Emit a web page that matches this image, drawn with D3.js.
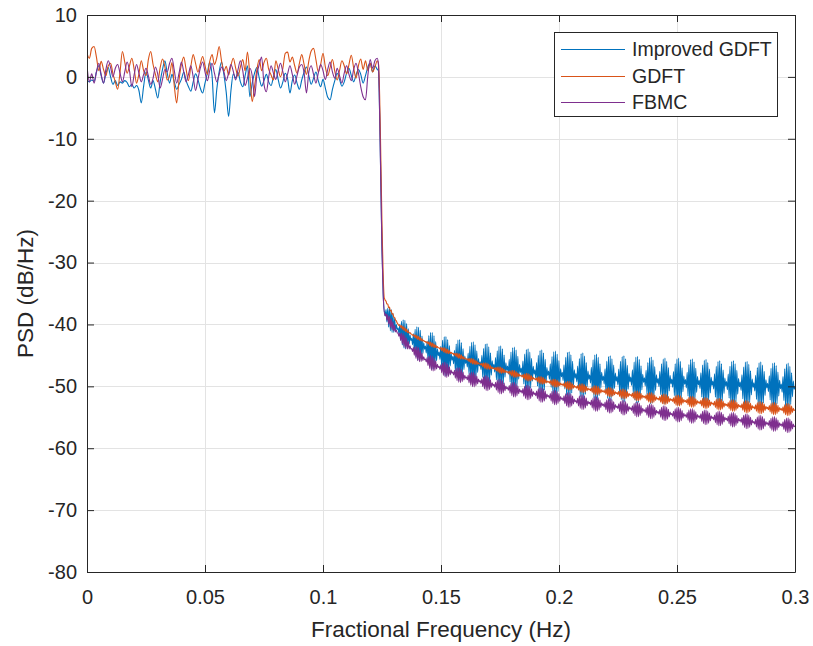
<!DOCTYPE html>
<html>
<head>
<meta charset="utf-8">
<script src="https://cdn.jsdelivr.net/npm/d3@7"></script>
<style>
  body { margin: 0; background: #ffffff; }
  svg text { font-family: "Liberation Sans", Arial, Helvetica, sans-serif; fill: #262626; }
</style>
</head>
<body>
<svg id="psd" width="813" height="646"></svg>
<script>
// PSD comparison plot

// layout
const svgWidth = 813;
const svgHeight = 646;
const plotLeft = 87, plotRight = 795, plotTop = 15, plotBottom = 572;
const tickLen = 7;

var colours = { blue: '#0072BD', orange: '#D95319', purple: '#7E2F8E', axis: '#262626', grid: '#e3e3e3' };

// data
const seriesNames = ['Improved GDFT', 'GDFT', 'FBMC'];
const xTicks = [0, 0.05, 0.1, 0.15, 0.2, 0.25, 0.3];
const yTicks = [10, 0, -10, -20, -30, -40, -50, -60, -70, -80];

// passband, one value every 0.001 Hz from 0 to 0.123
const passStep = 0.001;
const passImproved = [-0.6, -0.8, -0.5, -0.7, 0.8, 1.8, 0.2, -1.0, 0.5, 1.5,
  0.0, -1.2, -0.6, -1.4, -0.8, -1.0, -0.6, -0.9, -1.6, -1.2,
  -1.8, -1.4, -2.2, -4.2, -1.5, 0.8, -0.5, -1.8, -0.6, -2.0,
  -3.4, -0.8, 1.2, 2.6, 0.6, -1.0, 0.4, -0.8, -2.0, -1.2,
  -0.4, 0.8, -0.6, -1.6, -2.3, -0.8, 0.5, -0.4, -1.8, -2.6,
  -1.0, 0.6, 2.4, 0.2, -5.8, -2.0, 0.8, 2.4, 0.4, -2.5,
  -6.4, -2.2, 0.5, -0.2, 0.7, -0.8, -1.6, 0.2, 1.8, -3.2,
  -1.0, 0.6, 1.5, -0.2, -1.5, -0.6, 0.4, -0.8, -1.4, 0.0,
  1.2, -0.4, -1.8, -0.8, 0.6, -0.3, -2.6, -0.6, 0.3, -1.0,
  -2.0, -0.5, 0.8, 1.6, 0.2, -1.2, -0.2, 0.8, -0.6, -1.6,
  -0.4, -1.8, -3.3, -3.7, -2.0, -0.6, 0.6, -0.4, -1.5, -0.8,
  0.6, 1.4, 0.2, -0.8, 0.3, 1.2, 0.4, -1.0, 0.2, 1.6,
  2.2, 0.8, 1.8, 1.2];
const passGdft = [3.8, 3.0, 4.6, 4.9, 3.2, 1.0, 2.5, 1.2, 0.2, 1.8,
  2.2, 0.5, -0.8, -2.0, 0.8, 4.1, 2.4, 0.6, 1.8, 3.0,
  1.2, -1.0, 0.5, 2.6, 1.0, 0.2, 2.8, 4.1, 2.0, 0.4,
  -0.8, 1.5, 2.9, 1.6, -0.5, 0.2, 2.3, -1.5, -4.2, -0.5,
  2.0, 3.2, 1.2, -0.6, 1.7, 3.6, 2.2, 0.8, 2.1, 3.3,
  1.8, 0.4, 2.5, 3.6, 2.0, 3.1, 4.9, 2.6, 0.9, 1.7,
  0.3, 1.9, 3.0, 1.4, 0.1, 1.6, 2.8, 1.0, 4.0, 0.2,
  -4.0, -1.5, 1.2, 2.8, 1.0, 2.3, 3.0, 1.2, 0.3, -0.5,
  2.6, 1.3, 0.0, 1.4, 3.8, 4.0, 2.4, 3.2, 1.8, 0.6,
  2.2, 3.6, 2.0, 0.4, 2.6, 4.2, 4.6, 2.8, 0.8, 2.0,
  3.8, 1.6, 0.2, 1.5, 2.8, 0.9, -0.5, 1.0, 2.6, 1.8,
  0.5, 2.0, 3.5, 1.4, -0.2, 1.8, 2.9, 1.2, 2.6, 1.0,
  2.2, 0.8, 1.6, 2.6];
const passFbmc = [1.8, -0.8, 0.5, -1.0, 0.8, 2.2, 0.4, -1.0, 1.2, 2.6,
  1.5, 0.0, 1.4, 2.0, 0.6, -0.8, 0.8, 2.4, 1.0, -1.6,
  0.4, 2.0, 0.6, -0.8, 0.4, 1.4, 0.2, -1.2, -0.2, 1.6,
  0.4, -1.8, -0.4, 1.2, 0.8, 2.2, 3.0, 1.0, -1.0, 0.6,
  2.4, 0.8, -0.8, 0.4, 1.8, 0.0, -2.2, -0.4, 1.4, 2.4,
  0.8, -0.6, 1.0, 2.2, 0.6, -0.8, 0.4, 1.6, 0.8, -0.6,
  0.6, 2.0, 0.9, -0.5, 1.2, 2.6, 1.0, -1.4, -0.2, 1.4,
  0.2, -3.2, 0.4, 2.0, 3.2, -1.2, -2.4, 0.0, 1.8, 0.6,
  -0.4, 1.0, 2.2, 0.8, -0.8, 0.5, 1.8, 0.4, -1.2, 0.2,
  1.6, 2.0, 0.6, -2.6, 0.8, 1.8, 0.4, -1.0, 0.6, 2.0,
  1.0, -0.4, 1.2, 2.4, 0.8, -0.2, 1.4, 0.2, -1.0, 0.6,
  1.8, 0.4, -0.6, 1.2, 2.2, 0.6, -1.6, -3.2, -3.7, 0.2,
  2.8, 1.4, 2.6, 3.0];

// band edge roll-off
const edgeFreqs = [0.1235, 0.1240, 0.1245, 0.1250, 0.1255, 0.1260];
const edgeImproved = [1.0, -6, -17, -28, -35, -38.0];
const edgeGdft = [2.2, -3, -13, -24, -32, -35.8];
const edgeFbmc = [2.0, -6, -17, -28, -35, -38.2];

// stopband: ripple groups between these frequencies
const groupEdges = [0.126, 0.1318, 0.1376, 0.1434, 0.1492, 0.155, 0.1608, 0.1666, 0.1724, 0.1782,
  0.184, 0.1898, 0.1956, 0.2014, 0.2072, 0.213, 0.2188, 0.2246, 0.2304, 0.2362,
  0.242, 0.2478, 0.2536, 0.2594, 0.2652, 0.271, 0.2768, 0.2826, 0.2884, 0.2942, 0.3];
// level at each group edge (dB/Hz)
const levelImproved = [-38, -40.8, -42.5, -43.8, -44.8, -45.5, -46.0, -46.4, -46.8, -47.1,
  -47.4, -47.7, -47.9, -48.1, -48.3, -48.5, -48.7, -48.8, -48.9, -49.0,
  -49.1, -49.2, -49.3, -49.4, -49.5, -49.6, -49.7, -49.8, -49.9, -50.0, -50.1];
const levelGdft = [-35.8, -40.0, -41.6, -42.8, -43.8, -44.7, -45.6, -46.4, -47.1, -47.7,
  -48.3, -48.8, -49.3, -49.7, -50.1, -50.5, -50.8, -51.1, -51.4, -51.7,
  -52.0, -52.2, -52.4, -52.6, -52.8, -53.0, -53.2, -53.4, -53.5, -53.7, -53.8];
const levelFbmc = [-38.2, -41.5, -44.0, -45.7, -46.9, -47.8, -48.6, -49.2, -49.8, -50.3,
  -50.8, -51.2, -51.6, -52.0, -52.4, -52.7, -53.0, -53.3, -53.6, -53.9,
  -54.2, -54.5, -54.7, -54.9, -55.1, -55.3, -55.5, -55.8, -56.0, -56.2, -56.4];
// half height of the ripple in each group (dB)
const swingImproved = [1.8, 2.3, 2.7, 3.0, 3.2, 3.3, 3.4, 3.5, 3.5, 3.6,
  3.6, 3.7, 3.7, 3.8, 3.8, 3.8, 3.7, 3.8, 3.8, 3.8,
  3.7, 3.8, 3.8, 3.8, 3.7, 3.8, 3.8, 3.8, 3.8, 3.8];
const swingGdft = [0.2, 0.3, 0.3, 0.35, 0.4, 0.4, 0.45, 0.5, 0.5, 0.55,
  0.6, 0.6, 0.65, 0.7, 0.7, 0.75, 0.75, 0.8, 0.8, 0.85,
  0.85, 0.9, 0.9, 0.9, 0.95, 0.95, 1.0, 1.0, 1.0, 1.0];
const swingFbmc = [0.8, 1.0, 1.1, 1.2, 1.2, 1.2, 1.2, 1.2, 1.2, 1.2,
  1.2, 1.2, 1.2, 1.2, 1.2, 1.2, 1.2, 1.2, 1.2, 1.2,
  1.2, 1.2, 1.2, 1.2, 1.2, 1.2, 1.2, 1.2, 1.2, 1.2];
// ripple shape inside one group
const ripple = [0.1, -0.25, 0.42, -0.6, 0.75, -0.87, 0.96, -1.0, 1.0, -0.96, 0.87, -0.75, 0.6, -0.42, 0.25, -0.1];

// build the point lists
function buildSeries(pass, edge, level, swing) {
  var pts = pass.map(function (v, i) { return [i * passStep, v]; });
  edge.forEach(function (v, i) { pts.push([edgeFreqs[i], v]); });
  for (var k = 0; k < groupEdges.length - 1; k++) {
    for (var j = 0; j < ripple.length; j++) {
      var t = j / ripple.length;
      var f = groupEdges[k] + t * (groupEdges[k + 1] - groupEdges[k]);
      var base = level[k] + t * (level[k + 1] - level[k]);
      pts.push([f, base + swing[k] * ripple[j]]);
    }
  }
  pts.push([groupEdges[groupEdges.length - 1], level[level.length - 1]]);
  return pts;
}

const series = [
  { name: seriesNames[0], colour: 'blue',   points: buildSeries(passImproved, edgeImproved, levelImproved, swingImproved) },
  { name: seriesNames[1], colour: 'orange', points: buildSeries(passGdft, edgeGdft, levelGdft, swingGdft) },
  { name: seriesNames[2], colour: 'purple', points: buildSeries(passFbmc, edgeFbmc, levelFbmc, swingFbmc) }
];

// scales
var x = d3.scaleLinear().domain([0, 0.3]).range([plotLeft, plotRight]);
var y = d3.scaleLinear().domain([-80, 10]).range([plotBottom, plotTop]);

var svg = d3.select('svg#psd');

svg.append('rect')
  .attr('x', 0).attr('y', 0)
  .attr('width', svgWidth).attr('height', svgHeight)
  .style('fill', '#ffffff');

// grid
var grid = svg.append('g').attr('class', 'grid');
grid.selectAll('line.gx')
  .data(xTicks)
  .enter()
  .append('line')
  .attr('x1', function (d) { return Math.round(x(d)) + 0.5; })
  .attr('x2', function (d) { return Math.round(x(d)) + 0.5; })
  .attr('y1', plotTop).attr('y2', plotBottom)
  .style('stroke', colours.grid).style('stroke-width', 1);
grid.selectAll('line.gy')
  .data(yTicks)
  .enter()
  .append('line')
  .attr('y1', function (d) { return Math.round(y(d)) + 0.5; })
  .attr('y2', function (d) { return Math.round(y(d)) + 0.5; })
  .attr('x1', plotLeft).attr('x2', plotRight)
  .style('stroke', colours.grid).style('stroke-width', 1);

// data lines
svg.append('clipPath').attr('id', 'plot-clip')
  .append('rect')
  .attr('x', plotLeft).attr('y', plotTop)
  .attr('width', plotRight - plotLeft).attr('height', plotBottom - plotTop);

var line = d3.line()
  .curve(d3.curveMonotoneX)
  .x(function (d) { return x(d[0]); })
  .y(function (d) { return y(d[1]); });

svg.append('g')
  .attr('clip-path', 'url(#plot-clip)')
  .selectAll('path')
  .data(series)
  .enter()
  .append('path')
  .attr('d', function (d) { return line(d.points); })
  .style('fill', 'none')
  .style('stroke', function (d) { return colours[d.colour]; })
  .style('stroke-width', 1.1)
  .style('stroke-linejoin', 'round');

// axes (MATLAB style box, ticks inside on all four sides)
function plainNumber(d) { return String(+d.toFixed(2)); }   // keeps the ascii hyphen for negatives

var xAxisB = d3.axisBottom(x).tickValues(xTicks).tickSizeInner(-tickLen).tickSizeOuter(0).tickPadding(18).tickFormat(plainNumber);
var xAxisT = d3.axisTop(x).tickValues(xTicks).tickSizeInner(-tickLen).tickSizeOuter(0).tickFormat('');
var yAxisL = d3.axisLeft(y).tickValues(yTicks).tickSizeInner(-tickLen).tickSizeOuter(0).tickPadding(10).tickFormat(plainNumber);
var yAxisR = d3.axisRight(y).tickValues(yTicks).tickSizeInner(-tickLen).tickSizeOuter(0).tickFormat('');

function styleAxis(g) {
  g.select('.domain').style('stroke', colours.axis).style('stroke-width', 1);
  g.selectAll('.tick line').style('stroke', colours.axis).style('stroke-width', 1);
  g.selectAll('.tick text').style('font-size', '20px').style('fill', colours.axis)
    .style('font-family', '"Liberation Sans", Arial, Helvetica, sans-serif');
}

svg.append('g').attr('transform', 'translate(0,' + plotBottom + ')').call(xAxisB).call(styleAxis);
svg.append('g').attr('transform', 'translate(0,' + plotTop + ')').call(xAxisT).call(styleAxis);
svg.append('g').attr('transform', 'translate(' + plotLeft + ',0)').call(yAxisL).call(styleAxis);
svg.append('g').attr('transform', 'translate(' + plotRight + ',0)').call(yAxisR).call(styleAxis);

// axis labels
svg.append('text')
  .attr('x', (plotLeft + plotRight) / 2)
  .attr('y', 637)
  .attr('text-anchor', 'middle')
  .style('font-size', '22.5px')
  .text('Fractional Frequency (Hz)');

svg.append('text')
  .attr('transform', 'translate(33,' + ((plotTop + plotBottom) / 2) + ') rotate(-90)')
  .attr('text-anchor', 'middle')
  .style('font-size', '22.5px')
  .text('PSD (dB/Hz)');

// legend
var legend = svg.append('g').attr('class', 'legend');
legend.append('rect')
  .attr('x', 554.5).attr('y', 32.5)
  .attr('width', 223).attr('height', 84)
  .style('fill', '#ffffff')
  .style('stroke', colours.axis).style('stroke-width', 1);

const legendRowY = [49.5, 76.5, 102.5];

var rows = legend.selectAll('g.row')
  .data(series)
  .enter()
  .append('g')
  .attr('class', 'row')
  .attr('transform', function (d, i) { return 'translate(0,' + legendRowY[i] + ')'; });

rows.append('line')
  .attr('x1', 561).attr('x2', 625)
  .attr('y1', 0).attr('y2', 0)
  .style('stroke', function (d) { return colours[d.colour]; })
  .style('stroke-width', 1)
  .style('shape-rendering', 'crispEdges');

rows.append('text')
  .attr('x', 632)
  .attr('y', 6.5)
  .style('font-size', '19.5px')
  .text(function (d) { return d.name; });
</script>
</body>
</html>
